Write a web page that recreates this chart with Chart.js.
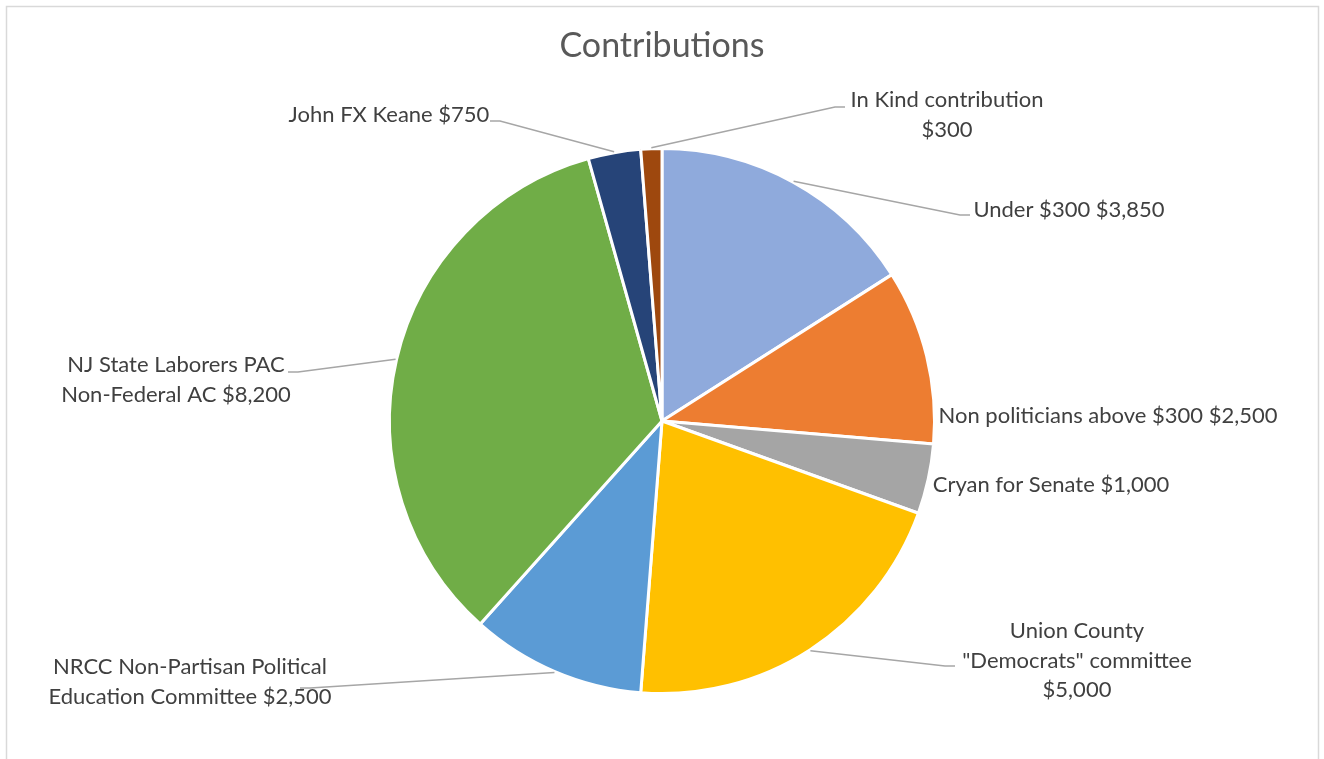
<!DOCTYPE html>
<html>
<head>
<meta charset="utf-8">
<script src="https://cdn.jsdelivr.net/npm/chart.js@4.4.1/dist/chart.umd.min.js"></script>
<style>
  html, body { margin: 0; padding: 0; background: #fff; }
  #wrap { width: 1324px; height: 759px; }
</style>
</head>
<body>
<div id="wrap"><canvas id="pie" width="1324" height="759"></canvas></div>
<script>
const TITLE = 'Contributions';

const categories = [
    'Under $300',
    'Non politicians above $300',
    'Cryan for Senate',
    'Union County "Democrats" committee',
    'NRCC Non-Partisan Political Education Committee',
    'NJ State Laborers PAC Non-Federal AC',
    'John FX Keane',
    'In Kind contribution',
];
const amounts = [3850, 2500, 1000, 5000, 2500, 8200, 750, 300];
const sliceColors = ['#8faadc', '#ed7d31', '#a5a5a5', '#ffc000', '#5b9bd5', '#70ad47', '#264478', '#9e480e'];

// where each data label sits (center x, first baseline), wrap width, leader line bends
const labelPlacement = [
    { x: 1069, y: 217, wrap: 400, bend: [[960, 215], [970, 215]] },
    { x: 1108, y: 423, wrap: 400, bend: null },
    { x: 1051, y: 492, wrap: 400, bend: null },
    { x: 1077, y: 638, wrap: 245, bend: [[945, 666], [955, 666]] },
    { x: 190, y: 674, wrap: 300, bend: [[310, 688], [300, 688]] },
    { x: 176, y: 372, wrap: 245, bend: [[298, 372], [288, 372]] },
    { x: 389, y: 122, wrap: 400, bend: [[500, 121], [490, 121]] },
    { x: 947, y: 107, wrap: 215, bend: [[835, 107], [845, 107]] },
];

const LABEL_FONT = '22px Lato';
const LINE_H = 29.5;

const money = v => '$' + v.toLocaleString('en-US');

function wrapText(ctx, text, maxWidth) {
    const words = text.split(' ');
    const lines = [];
    let cur = '';
    for (const w of words) {
        const test = cur ? cur + ' ' + w : w;
        if (cur && ctx.measureText(test).width > maxWidth) {
            lines.push(cur);
            cur = w;
        } else {
            cur = test;
        }
    }
    if (cur) lines.push(cur);
    return lines;
}

const decorations = {
    id: 'decorations',
    beforeDraw(chart) {
        const ctx = chart.ctx;
        ctx.save();
        ctx.strokeStyle = '#d9d9d9';
        ctx.lineWidth = 1.5;
        ctx.strokeRect(6.5, 6.5, 1312, 800);
        ctx.fillStyle = '#595959';
        ctx.font = '34px Lato';
        ctx.textAlign = 'center';
        ctx.textBaseline = 'alphabetic';
        ctx.fillText(TITLE, 662, 57);
        ctx.restore();
    },
    afterDatasetsDraw(chart) {
        const ctx = chart.ctx;
        const arcs = chart.getDatasetMeta(0).data;
        ctx.save();
        arcs.forEach((arc, i) => {
            const place = labelPlacement[i];
            if (place.bend) {
                const mid = (arc.startAngle + arc.endAngle) / 2;
                const r = arc.outerRadius + 1;
                ctx.beginPath();
                ctx.moveTo(arc.x + r * Math.cos(mid), arc.y + r * Math.sin(mid));
                place.bend.forEach(p => ctx.lineTo(p[0], p[1]));
                ctx.strokeStyle = '#a6a6a6';
                ctx.lineWidth = 1.5;
                ctx.stroke();
            }
            ctx.font = LABEL_FONT;
            ctx.fillStyle = '#404040';
            ctx.textAlign = 'center';
            ctx.textBaseline = 'alphabetic';
            const lines = wrapText(ctx, categories[i] + ' ' + money(amounts[i]), place.wrap);
            lines.forEach((ln, k) => ctx.fillText(ln, place.x, place.y + k * LINE_H));
        });
        ctx.restore();
    }
};

new Chart(document.getElementById('pie'), {
    type: 'pie',
    data: {
        labels: categories,
        datasets: [{
            data: amounts,
            backgroundColor: sliceColors,
            borderColor: '#ffffff',
            borderWidth: 3,
        }],
    },
    options: {
        responsive: false,
        animation: false,
        devicePixelRatio: 1,
        layout: { padding: { top: 147, bottom: 64, left: 0, right: 0 } },
        plugins: {
            legend: { display: false },
            tooltip: { enabled: false },
            title: { display: false },
        },
    },
    plugins: [decorations],
});
</script>
</body>
</html>
